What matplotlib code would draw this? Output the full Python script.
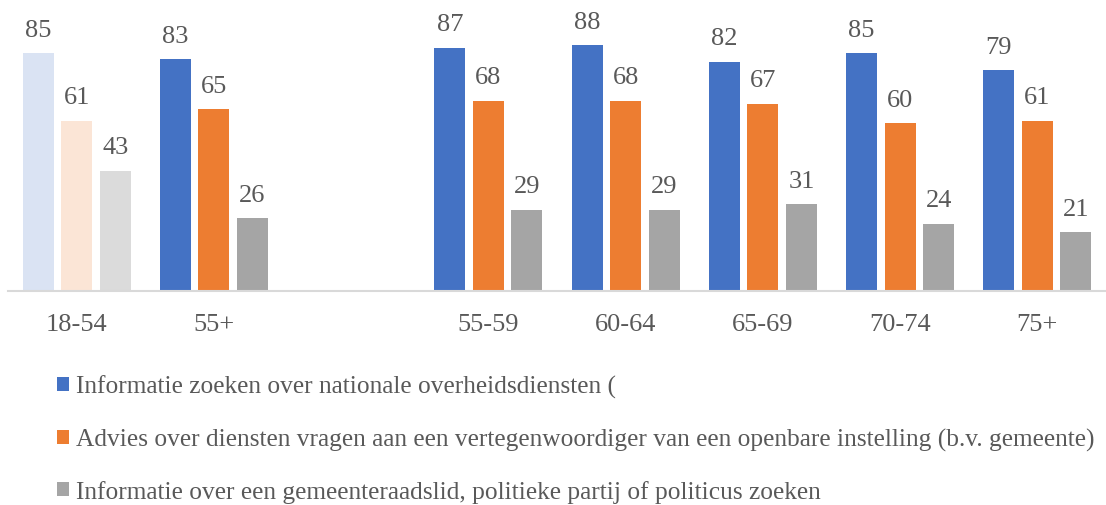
import numpy as np
import matplotlib
matplotlib.use("Agg")
import matplotlib.pyplot as plt
from matplotlib.patches import Patch

plt.rcParams["font.family"] = ["Liberation Serif", "DejaVu Serif"]

# Age groups; the empty slot separates the two groupings
categories = ["18-54", "55+", "", "55-59", "60-64", "65-69", "70-74", "75+"]

series_names = [
    "Informatie zoeken over nationale overheidsdiensten (",
    "Advies over diensten vragen aan een vertegenwoordiger van een openbare instelling (b.v. gemeente)",
    "Informatie over een gemeenteraadslid, politieke partij of politicus zoeken",
]
info_national = [85, 83, np.nan, 87, 88, 82, 85, 79]
advice_public = [61, 65, np.nan, 68, 68, 67, 60, 61]
info_politics = [43, 26, np.nan, 29, 29, 31, 24, 21]

colors = ["#4472C4", "#ED7D31", "#A5A5A5"]
faded = ["#DAE3F3", "#FBE5D6", "#DBDBDB"]
text_color = "#595959"

W, H = 1106, 506
fig = plt.figure(figsize=(W / 100, H / 100), dpi=100)
ax = fig.add_axes([8 / W, (H - 292) / H, 1098 / W, 292 / H])

x = np.arange(len(categories))
bar_w = 0.226
step = 0.281
values = [info_national, advice_public, info_politics]
num_size = 19

for i, vals in enumerate(values):
    offs = (i - 1) * step
    cols = [faded[i] if c == "18-54" else colors[i] for c in categories]
    bars = ax.bar(x + offs, vals, width=bar_w, color=cols, linewidth=0, zorder=2)
    for rect, v in zip(bars, vals):
        if np.isnan(v):
            continue
        ax.annotate(f"{int(v)}", (rect.get_x() + rect.get_width() / 2, v),
                    xytext=(0, 9), textcoords="offset points",
                    ha="center", va="bottom", fontsize=num_size, color=text_color)

ax.set_xlim(-0.5, len(categories) - 0.5)
ax.set_ylim(0, 104.5)
ax.set_xticks(x)
ax.set_xticklabels(categories, fontsize=num_size, color=text_color)
ax.tick_params(axis="x", length=0, pad=16)
ax.set_yticks([])
for side in ["top", "right", "left"]:
    ax.spines[side].set_visible(False)
ax.spines["bottom"].set_color("#D9D9D9")
ax.spines["bottom"].set_linewidth(1.5)
ax.set_facecolor("none")

handles = [Patch(facecolor=c, edgecolor="none") for c in colors]
fig.legend(handles, series_names, loc="upper left",
           bbox_to_anchor=(57 / W, 1 - 376 / H), frameon=False,
           fontsize=18.3, labelcolor=text_color,
           handlelength=0.47, handleheight=0.47, handletextpad=0.27,
           labelspacing=1.16, borderaxespad=0, borderpad=0)

fig.savefig("out.png", dpi=100)
